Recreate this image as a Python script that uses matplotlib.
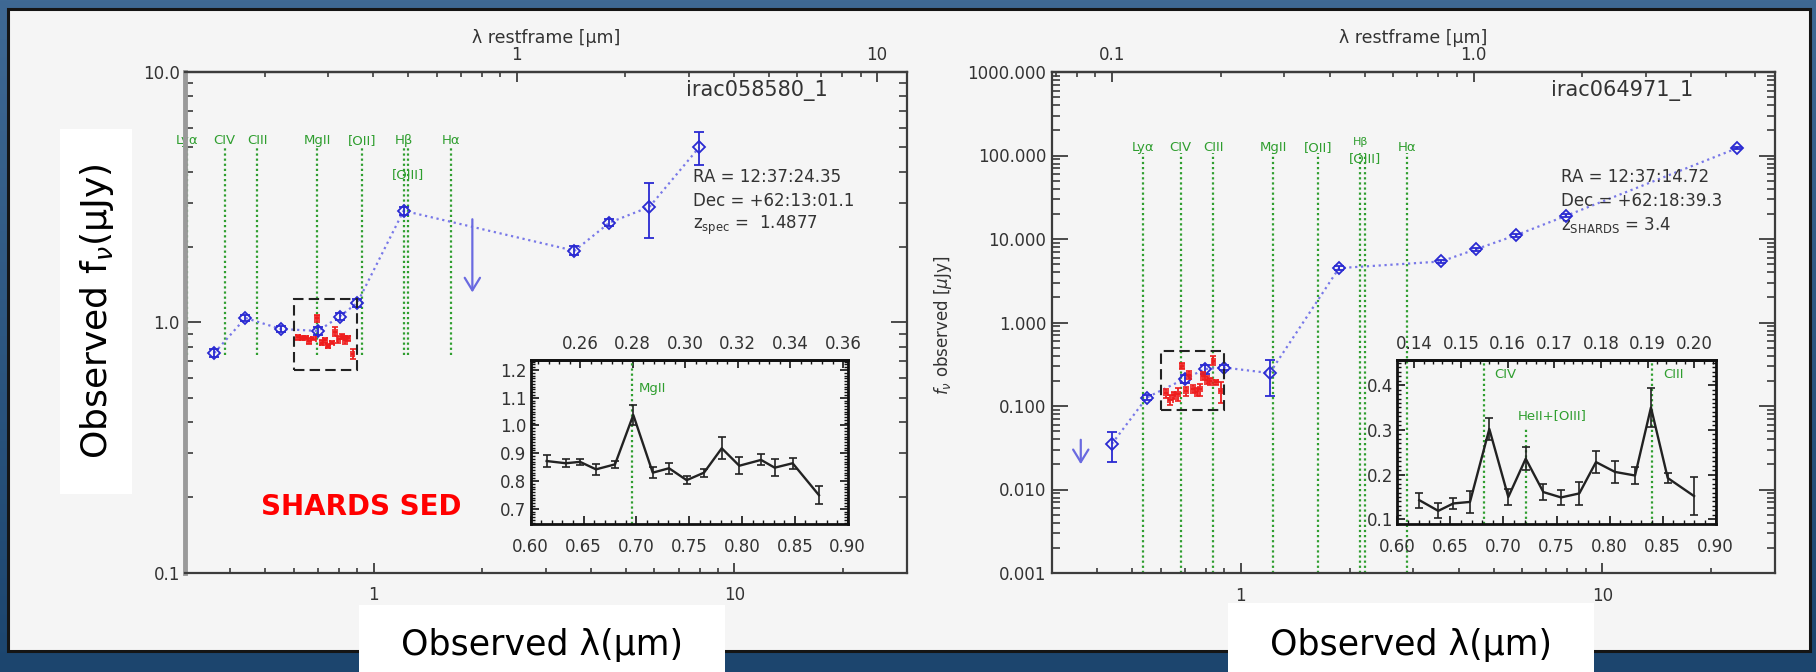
import numpy as np
import matplotlib
matplotlib.use("Agg")
import matplotlib.pyplot as plt
from matplotlib.patches import Rectangle
from matplotlib.colors import LinearSegmentedColormap
from matplotlib.transforms import offset_copy
from matplotlib.ticker import (LogLocator, MultipleLocator, NullFormatter,
                               FormatStrFormatter)

plt.rcParams['font.family'] = ['DejaVu Sans']
plt.rcParams['mathtext.fontset'] = 'dejavusans'

W, H = 1816, 672

# emission lines, rest-frame wavelength in micron
line_names = ['Lyα', 'CIV', 'CIII', 'MgII', '[OII]', 'Hβ', '[OIII]', 'Hα']
line_rest = [0.1216, 0.1549, 0.1909, 0.2798, 0.3727, 0.4861, 0.5007, 0.6563]

# ---------------- irac058580_1 ----------------
z1 = 1.4877
phot1_wave = [0.361, 0.440, 0.552, 0.700, 0.803, 0.899, 1.209, 3.60, 4.50, 5.81, 7.98]
phot1_flux = [0.754, 1.04, 0.94, 0.923, 1.054, 1.195, 2.79, 1.93, 2.50, 2.89, 5.00]
phot1_err = [0.028, 0.03, 0.025, 0.035, 0.03, 0.04, 0.10, 0.08, 0.08, 0.72, 0.74]
uplim1_wave = 1.875
uplim1_flux = 2.58
shards1_wave = [0.6151, 0.6331, 0.6467, 0.6618, 0.6798, 0.6971, 0.7155, 0.7309,
                0.7476, 0.7640, 0.7808, 0.7974, 0.8180, 0.8309, 0.8479, 0.8728]
shards1_flux = [0.872, 0.864, 0.869, 0.842, 0.860, 1.038, 0.830, 0.846,
                0.803, 0.830, 0.918, 0.855, 0.876, 0.848, 0.864, 0.749]
shards1_err = [0.020, 0.015, 0.012, 0.020, 0.012, 0.035, 0.020, 0.020,
               0.015, 0.015, 0.040, 0.030, 0.020, 0.030, 0.020, 0.033]

# ---------------- irac064971_1 ----------------
z2 = 3.4
phot2_wave = [0.440, 0.550, 0.700, 0.797, 0.898, 1.202, 1.869, 3.58, 4.48, 5.77, 7.94, 23.6]
phot2_flux = [0.0352, 0.1264, 0.212, 0.277, 0.289, 0.248, 4.48, 5.38, 7.57, 11.1, 18.97, 122.7]
phot2_err_lo = [0.0139, 0.008, 0.024, 0.033, 0.02, 0.118, 0.25, 0.2, 0.3, 0.4, 0.7, 4.0]
phot2_err_hi = [0.0135, 0.008, 0.024, 0.033, 0.02, 0.109, 0.25, 0.2, 0.3, 0.4, 0.7, 4.0]
uplim2_wave = 0.361
uplim2_flux = 0.0394
shards2_wave = [0.6207, 0.6386, 0.6528, 0.6685, 0.6867, 0.7046, 0.7210, 0.7376,
                0.7543, 0.7715, 0.7872, 0.8051, 0.8240, 0.8390, 0.8548, 0.8796]
shards2_flux = [0.143, 0.119, 0.1356, 0.139, 0.302, 0.150, 0.2356, 0.161,
                0.149, 0.158, 0.228, 0.206, 0.198, 0.350, 0.1924, 0.152]
shards2_err = [0.017, 0.017, 0.013, 0.024, 0.025, 0.018, 0.026, 0.017,
               0.016, 0.026, 0.025, 0.025, 0.020, 0.043, 0.012, 0.043]

TXT = '#333333'
AXC = '#3c3c3c'
BLUE = '#2a2ad2'
BLUE_LINE = '#7878e8'
ARROW = '#6a6ae0'
GREEN = '#2f9e2f'
RED = '#ee1c1c'


def px_rect(x0, y0, x1, y1):
    return [x0 / W, 1 - y1 / H, (x1 - x0) / W, (y1 - y0) / H]


fig = plt.figure(figsize=(W / 100, H / 100), dpi=100)

# frame, panel and label boxes drawn in pixel units
bg = fig.add_axes([0, 0, 1, 1], zorder=-10)
grad = np.linspace(0, 1, 256)[:, None]
bg.imshow(grad, extent=[0, W, H, 0], aspect='auto',
          cmap=LinearSegmentedColormap.from_list('frame', ['#3f6994', '#1c456e']))
bg.set_xlim(0, W)
bg.set_ylim(H, 0)
bg.set_axis_off()
bg.add_patch(Rectangle((8, 9), 1802, 642, facecolor='#f5f5f5', edgecolor='#151515', lw=2.2))
bg.add_patch(Rectangle((60, 129), 72, 365, facecolor='white', edgecolor='none'))
bg.add_patch(Rectangle((359, 605), 366, 67, facecolor='white', edgecolor='none'))
bg.add_patch(Rectangle((1228, 603), 366, 69, facecolor='white', edgecolor='none'))
bg.text(97, 311, 'Observed f$_{\\nu}$(μJy)', rotation=90, ha='center', va='center',
        fontsize=26, color='black')
bg.text(542, 645, 'Observed λ(μm)', ha='center', va='center', fontsize=25, color='black')
bg.text(1411, 645, 'Observed λ(μm)', ha='center', va='center', fontsize=25, color='black')
bg.text(361, 507, 'SHARDS SED', ha='center', va='center', fontsize=20,
        fontweight='bold', color='#ff0000')
bg.text(943, 325, '$f_\\nu$ observed [$\\mu$Jy]', rotation=90, ha='center', va='center',
        fontsize=12, color=TXT)


def main_panel(rect, z, ylim, yticks, ylabels, top_ticks, top_labels,
               wave, flux, elo, ehi, up_w, up_f, sh_w, sh_f, sh_e, box_ylim,
               line_span, label_y, label_size, name, ra, dec, zlab, left_spine):
    ax = fig.add_axes(rect)
    ax.set_facecolor('none')
    ax.set_xscale('log')
    ax.set_yscale('log')
    ax.set_xlim(0.3, 30)
    ax.set_ylim(*ylim)
    ax.set_xticks([1, 10], labels=['1', '10'])
    ax.set_yticks(yticks, labels=ylabels)
    for axis in (ax.xaxis, ax.yaxis):
        axis.set_minor_locator(LogLocator(base=10, subs=np.arange(2, 10), numticks=60))
        axis.set_minor_formatter(NullFormatter())
    ax.tick_params(axis='x', which='major', direction='in', length=7, width=1.3,
                   top=False, pad=10, labelsize=12, color=AXC, labelcolor=TXT)
    ax.tick_params(axis='x', which='minor', direction='in', length=3.6, width=1.2,
                   top=False, color=AXC)
    ax.tick_params(axis='y', which='major', direction='in', length=11.5, width=1.3,
                   left=True, right=True, pad=4, labelsize=12, color=AXC, labelcolor=TXT)
    ax.tick_params(axis='y', which='minor', direction='in', length=5.8, width=1.2,
                   left=True, right=True, color=AXC)
    for s in ax.spines.values():
        s.set_color(AXC)
        s.set_linewidth(1.6)
    if left_spine:
        ax.spines['left'].set_color('#9a9a9a')
        ax.spines['left'].set_linewidth(3.5)

    sec = ax.secondary_xaxis('top', functions=(lambda x, zz=z: x / (1 + zz),
                                               lambda x, zz=z: x * (1 + zz)))
    sec.set_xticks(top_ticks, labels=top_labels)
    sec.xaxis.set_minor_locator(LogLocator(base=10, subs=np.arange(2, 10), numticks=60))
    sec.xaxis.set_minor_formatter(NullFormatter())
    sec.tick_params(which='major', direction='in', length=7, width=1.3, pad=6,
                    labelsize=12, color=AXC, labelcolor=TXT)
    sec.tick_params(which='minor', direction='in', length=3.6, width=1.2, color=AXC)
    sec.spines['top'].set_color(AXC)
    sec.spines['top'].set_linewidth(1.6)
    sec.set_xlabel('λ restframe [μm]', fontsize=12.5, labelpad=2, color=TXT)

    # emission lines at the observed wavelength
    xt = ax.get_xaxis_transform()
    for nm, rest in zip(line_names, line_rest):
        xo = rest * (1 + z)
        ax.axvline(xo, ymin=line_span[0], ymax=line_span[1], color=GREEN,
                   ls=(0, (1, 1.3)), lw=1.6, zorder=2)
        ax.text(xo, label_y.get(nm, label_y['default']), nm, transform=xt,
                ha='center', va='center', color=GREEN,
                fontsize=label_size.get(nm, 9.5), zorder=2)

    # broad-band photometry
    ax.plot(wave, flux, ls=':', color=BLUE_LINE, lw=1.6, zorder=3)
    ax.errorbar(wave, flux, yerr=[elo, ehi], fmt='D', ms=6.5, mfc='none', mec=BLUE,
                mew=1.3, ecolor=BLUE, elinewidth=1.3, capsize=3.5, capthick=1.3,
                ls='none', zorder=4)
    ax.annotate('', xy=(up_w, up_f * 0.51), xytext=(up_w, up_f),
                arrowprops=dict(arrowstyle='->,head_length=0.9,head_width=0.55',
                                color=ARROW, lw=1.6, shrinkA=0, shrinkB=0,
                                mutation_scale=10), zorder=4)

    # SHARDS medium-band photometry
    ax.errorbar(sh_w, sh_f, xerr=0.009, yerr=sh_e, fmt='none',
                ecolor=RED, elinewidth=1.3, capsize=2.2, capthick=1.2, zorder=5)
    ax.add_patch(Rectangle((0.6, box_ylim[0]), 0.3, box_ylim[1] - box_ylim[0],
                           fill=False, ec='#222222', lw=1.5, ls=(0, (5, 2.5)), zorder=6))

    ax.text(name[1], 0.964, name[0], transform=ax.transAxes, ha='right', va='center',
            fontsize=15, color=TXT)
    ax.text(0.704, 0.790, ra, transform=ax.transAxes, ha='left', va='center',
            fontsize=12, color=TXT)
    ax.text(0.704, 0.742, dec, transform=ax.transAxes, ha='left', va='center',
            fontsize=12, color=TXT)
    ax.text(0.704, 0.694, zlab, transform=ax.transAxes, ha='left', va='center',
            fontsize=12, color=TXT)
    return ax


def inset_panel(rect, z, ylim, top_ticks, top_minor, wave, flux, err, lines):
    ax = fig.add_axes(rect, zorder=5)
    ax.set_facecolor('none')
    ax.set_xlim(0.6, 0.9)
    ax.set_ylim(*ylim)
    ax.xaxis.set_major_locator(MultipleLocator(0.05))
    ax.xaxis.set_minor_locator(MultipleLocator(0.01))
    ax.xaxis.set_major_formatter(FormatStrFormatter('%.2f'))
    ax.yaxis.set_major_locator(MultipleLocator(0.1))
    ax.yaxis.set_minor_locator(MultipleLocator(0.01))
    ax.yaxis.set_major_formatter(FormatStrFormatter('%.1f'))
    ax.tick_params(which='major', direction='in', length=6, width=1.2, color='#111111',
                   labelcolor=TXT, labelsize=12, left=True, right=True, top=False)
    ax.tick_params(axis='x', which='major', pad=10)
    ax.tick_params(axis='y', which='major', pad=3)
    ax.tick_params(which='minor', direction='in', length=3, width=1.0, color='#111111',
                   left=True, right=True, top=False)
    for s in ax.spines.values():
        s.set_color('#111111')
        s.set_linewidth(2)

    sec = ax.secondary_xaxis('top', functions=(lambda x, zz=z: x / (1 + zz),
                                               lambda x, zz=z: x * (1 + zz)))
    sec.set_xticks(top_ticks, labels=['%.2f' % t for t in top_ticks])
    sec.xaxis.set_minor_locator(MultipleLocator(top_minor))
    sec.tick_params(which='major', direction='in', length=6, width=1.2, pad=5,
                    labelsize=12, color='#111111', labelcolor=TXT)
    sec.tick_params(which='minor', direction='in', length=3, width=1.0, color='#111111')
    sec.spines['top'].set_color('#111111')
    sec.spines['top'].set_linewidth(2)

    xt = ax.get_xaxis_transform()
    for nm, rest, ytop, ylab, dx, ha in lines:
        xo = rest * (1 + z)
        ax.axvline(xo, ymin=0, ymax=ytop, color=GREEN, ls=(0, (1, 1.3)), lw=1.6, zorder=1)
        ax.text(xo, ylab, nm, transform=offset_copy(xt, fig=fig, x=dx, units='dots'),
                ha=ha, va='center', color=GREEN, fontsize=9.5)

    ax.errorbar(wave, flux, yerr=err, color='#222222', lw=1.7, elinewidth=1.2,
                capsize=3, capthick=1.2, zorder=3)
    return ax


main_panel(px_rect(185.4, 72, 906.5, 572.5), z1, (0.1, 10.0), [0.1, 1.0, 10.0],
           ['0.1', '1.0', '10.0'], [1, 10], ['1', '10'],
           phot1_wave, phot1_flux, phot1_err, phot1_err, uplim1_wave, uplim1_flux,
           shards1_wave, shards1_flux, shards1_err, (0.644, 1.236),
           (0.435, 0.850), {'default': 0.864, '[OIII]': 0.796}, {},
           ('irac058580_1', 0.891), 'RA = 12:37:24.35', 'Dec = +62:13:01.1',
           'z$_{\\rm spec}$ =  1.4877', True)

main_panel(px_rect(1051.7, 72, 1775, 573), z2, (0.001, 1000.0),
           [0.001, 0.01, 0.1, 1.0, 10.0, 100.0, 1000.0],
           ['0.001', '0.010', '0.100', '1.000', '10.000', '100.000', '1000.000'],
           [0.1, 1.0], ['0.1', '1.0'],
           phot2_wave, phot2_flux, phot2_err_lo, phot2_err_hi, uplim2_wave, uplim2_flux,
           shards2_wave, shards2_flux, shards2_err, (0.089, 0.456),
           (0.0, 0.838), {'default': 0.850, 'Hβ': 0.860, '[OIII]': 0.828}, {'Hβ': 8},
           ('irac064971_1', 0.887), 'RA = 12:37:14.72', 'Dec = +62:18:39.3',
           'z$_{\\rm SHARDS}$ = 3.4', False)

inset_panel(px_rect(530.7, 360, 847.7, 524.3), z1, (0.644, 1.236),
            [0.26, 0.28, 0.30, 0.32, 0.34, 0.36], 0.004,
            shards1_wave, shards1_flux, shards1_err,
            [('MgII', 0.2798, 1.0, 0.824, 7, 'left')])

inset_panel(px_rect(1397.3, 360, 1715.7, 524.3), z2, (0.089, 0.456),
            [0.14, 0.15, 0.16, 0.17, 0.18, 0.19, 0.20], 0.002,
            shards2_wave, shards2_flux, shards2_err,
            [('CIV', 0.1549, 1.0, 0.909, 10, 'left'),
             ('HeII+[OIII]', 0.1640, 0.59, 0.66, -9, 'left'),
             ('CIII', 0.1909, 1.0, 0.909, 11, 'left')])

fig.savefig('out.png', dpi=100)
